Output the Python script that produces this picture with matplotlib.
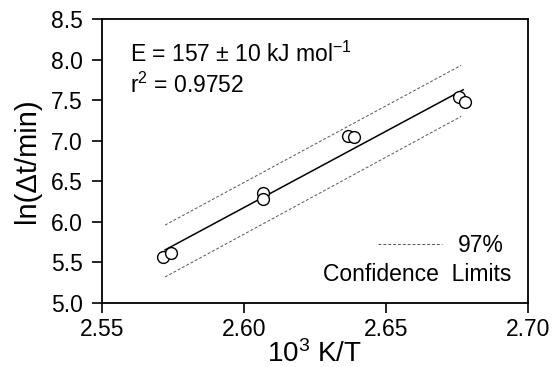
import numpy as np
import matplotlib
matplotlib.use("Agg")
from matplotlib import pyplot as plt

plt.rcParams['font.family'] = ['Liberation Sans', 'DejaVu Sans']
plt.rcParams['mathtext.fontset'] = 'custom'
plt.rcParams['mathtext.rm'] = 'Liberation Sans'
plt.rcParams['mathtext.it'] = 'Liberation Sans:italic'

# Arrhenius data: 10^3/T vs ln(time)
inv_temp = [2.5716, 2.5742, 2.6066, 2.6066, 2.6367, 2.6387, 2.6756, 2.6777]
ln_time = [5.571, 5.613, 6.353, 6.282, 7.063, 7.040, 7.536, 7.482]

# range of the fitted line and 97% confidence limits
fit_range = [2.5722, 2.6772]
ci_x = [2.5722, 2.6765]
ci_upper = [5.96, 7.93]
ci_lower = [5.32, 7.30]

xticks = [2.55, 2.60, 2.65, 2.70]
yticks = [5.0, 5.5, 6.0, 6.5, 7.0, 7.5, 8.0, 8.5]

slope, icpt = np.polyfit(inv_temp, ln_time, 1)
fx = np.array(fit_range)

fig = plt.figure(figsize=(5.54, 3.67), dpi=100)
ax = fig.add_axes([0.184, 0.1744, 0.769, 0.7738])

ax.plot(fx, slope * fx + icpt, color='black', lw=1.1, zorder=2)
ax.plot(ci_x, ci_upper, color='#555555', lw=0.7, ls=(0, (3, 2)), label='97%')
ax.plot(ci_x, ci_lower, color='#555555', lw=0.7, ls=(0, (3, 2)))
ax.plot(inv_temp, ln_time, 'o', ms=8.5, mfc='white', mec='black', mew=1.0, zorder=3)

ax.set_xlim(2.55, 2.70)
ax.set_ylim(5.0, 8.5)
ax.set_xticks(xticks)
ax.set_xticklabels([f"{v:.2f}" for v in xticks])
ax.set_yticks(yticks)
ax.set_yticklabels([f"{v:.1f}" for v in yticks])
ax.tick_params(direction='out', length=7, width=1.2, labelsize=16.5)
ax.tick_params(axis='x', pad=4)
ax.tick_params(axis='y', pad=7)
for s in ax.spines.values():
    s.set_linewidth(1.3)

ax.set_xlabel('10$^3$ K/T', fontsize=20, labelpad=-1)
ax.set_ylabel('ln(Δt/min)', fontsize=21, labelpad=7)

ax.text(0.065, 0.92, 'E = 157 ± 10 kJ mol$^{-1}$\nr$^2$ = 0.9752', transform=ax.transAxes,
        fontsize=16.5, va='top', ha='left', linespacing=1.3)

leg = ax.legend(loc='lower right', bbox_to_anchor=(0.97, 0.12), frameon=False,
                fontsize=16.5, handlelength=2.8, handletextpad=0.7, borderpad=0)
ax.text(0.96, 0.06, 'Confidence  Limits', transform=ax.transAxes,
        fontsize=16.5, ha='right', va='bottom')

fig.savefig('out.png', dpi=100)
